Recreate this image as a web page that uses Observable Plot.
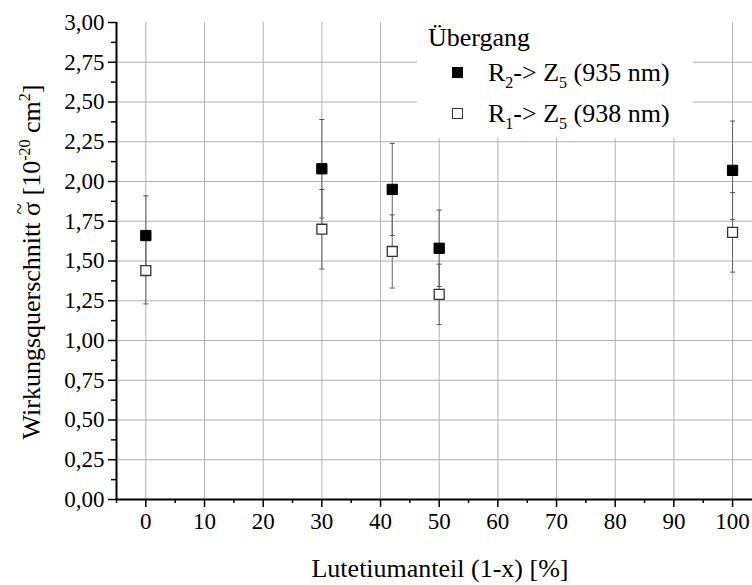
<!DOCTYPE html>
<html><head><meta charset="utf-8">
<script src="https://cdn.jsdelivr.net/npm/d3@7"></script>
<script src="https://cdn.jsdelivr.net/npm/@observablehq/plot@0.6"></script>
<style>
body{margin:0;background:#fff}
#wrap{position:relative;width:752px;height:585px;font-family:"Liberation Serif","Times New Roman",Tinos,Times,"DejaVu Serif",serif;color:#000}
#wrap svg{position:absolute;left:0;top:0}
.abs{position:absolute;white-space:nowrap;line-height:26px;font-size:26px}
.sub{font-size:16px;position:relative;top:7px}
.sup{font-size:16px;position:relative;top:-10px}
.mk{position:absolute;width:9px;height:9px;border:1.2px solid #000}
.tl{position:relative;display:inline-block}
.tl > span{position:absolute;left:0;right:0;top:-13px;text-align:center;font-size:20px}
</style></head><body><div id="wrap"></div>
<script>
// Data
const lutetium = [0, 30, 42, 50, 100];
const r2Values = [1.66, 2.08, 1.95, 1.58, 2.07];
const r2Errors = [0.25, 0.31, 0.29, 0.24, 0.31];
const r1Values = [1.44, 1.70, 1.56, 1.29, 1.68];
const r1Errors = [0.21, 0.25, 0.23, 0.19, 0.25];
const xTicks = [0, 10, 20, 30, 40, 50, 60, 70, 80, 90, 100];
const xMinorTicks = [-5, 5, 15, 25, 35, 45, 55, 65, 75, 85, 95];
const yTicks = [0, 0.25, 0.5, 0.75, 1, 1.25, 1.5, 1.75, 2, 2.25, 2.5, 2.75, 3];
const yMinorTicks = [0.125, 0.375, 0.625, 0.875, 1.125, 1.375, 1.625, 1.875, 2.125, 2.375, 2.625, 2.875];
const yGrid = [0.25, 0.5, 0.75, 1, 1.25, 1.5, 1.75, 2, 2.25, 2.5, 2.75];
const xDomain = [-5, 103.4];
const yDomain = [0, 3];

const rows = lutetium.map((x, i) => ({x, r2: r2Values[i], r2e: r2Errors[i], r1: r1Values[i], r1e: r1Errors[i]}));

const capSymbol = {draw(ctx, size) { const w = Math.sqrt(size) / 2; ctx.moveTo(-w, 0); ctx.lineTo(w, 0); }};
const capStyle = {symbol: capSymbol, r: 2.9, stroke: "#555", fill: "none", strokeWidth: 1};
const errStroke = "#666";
const serif = '"Liberation Serif","Times New Roman",Tinos,Times,"DejaVu Serif",serif';

const chart = Plot.plot({
  width: 752, height: 585,
  marginLeft: 116, marginRight: 0, marginTop: 22, marginBottom: 86,
  x: {domain: xDomain},
  y: {domain: yDomain},
  style: {fontFamily: serif, fontSize: "23px", background: "transparent", color: "#000"},
  marks: [
    Plot.gridX({ticks: xTicks, stroke: "#b0b0b0", strokeOpacity: 1, strokeWidth: 1}),
    Plot.gridY({ticks: yGrid, stroke: "#b0b0b0", strokeOpacity: 1, strokeWidth: 1}),
    Plot.ruleX(rows, {x: "x", y1: d => d.r2 - d.r2e, y2: d => d.r2 + d.r2e, stroke: errStroke, strokeWidth: 1}),
    Plot.ruleX(rows, {x: "x", y1: d => d.r1 - d.r1e, y2: d => d.r1 + d.r1e, stroke: errStroke, strokeWidth: 1}),
    Plot.dot(rows, {x: "x", y: d => d.r2 + d.r2e, ...capStyle}),
    Plot.dot(rows, {x: "x", y: d => d.r2 - d.r2e, ...capStyle}),
    Plot.dot(rows, {x: "x", y: d => d.r1 + d.r1e, ...capStyle}),
    Plot.dot(rows, {x: "x", y: d => d.r1 - d.r1e, ...capStyle}),
    Plot.dot(rows, {x: "x", y: "r2", symbol: "square", r: 5.8, fill: "#000", stroke: "#000", strokeWidth: 1}),
    Plot.dot(rows, {x: "x", y: "r1", symbol: "square", r: 5.6, fill: "#fff", stroke: "#333", strokeWidth: 1.3}),
    Plot.axisY({ticks: yTicks, tickFormat: d => d.toFixed(2).replace(".", ","), tickSize: 8, tickPadding: 4, strokeWidth: 1.5, fontSize: 23, fontFamily: serif, label: null}),
    Plot.axisY({ticks: yMinorTicks, tickSize: 5, strokeWidth: 1.5, fill: "none", label: null}),
    Plot.axisX({ticks: xTicks, tickSize: 8, tickPadding: 5, strokeWidth: 1.5, fontSize: 23, fontFamily: serif, label: null}),
    Plot.axisX({ticks: xMinorTicks, tickSize: 4, strokeWidth: 1.5, fill: "none", label: null}),
    Plot.ruleY([yDomain[0]], {stroke: "#000", strokeWidth: 2}),
    Plot.ruleX([xDomain[0]], {stroke: "#000", strokeWidth: 2})
  ]
});

const wrap = document.getElementById("wrap");
wrap.appendChild(chart);

// Legend
const legend = document.createElement("div");
legend.style.cssText = "position:absolute;left:417px;top:22px;width:276px;height:116px;background:#fff";
legend.innerHTML = `
  <div class="abs" style="left:11px;top:3px">Übergang</div>
  <div class="mk" style="left:35px;top:45px;background:#000"></div>
  <div class="abs" style="left:71px;top:38px">R<span class="sub">2</span>-&gt; Z<span class="sub">5</span> (935 nm)</div>
  <div class="mk" style="left:35px;top:86px;background:#fff;border-color:#333"></div>
  <div class="abs" style="left:71px;top:79px">R<span class="sub">1</span>-&gt; Z<span class="sub">5</span> (938 nm)</div>`;
wrap.appendChild(legend);

// Axis titles
const yTitle = document.createElement("div");
yTitle.className = "abs";
yTitle.style.cssText += ";left:33px;top:262px;transform:translate(-50%,-50%) rotate(-90deg)";
yTitle.innerHTML = `Wirkungsquerschnitt <span class="tl">σ<span>~</span></span> [10<span class="sup">-20</span> cm<span class="sup">2</span>]`;
wrap.appendChild(yTitle);

const xTitle = document.createElement("div");
xTitle.className = "abs";
xTitle.style.cssText += ";left:440px;top:556px;transform:translateX(-50%)";
xTitle.textContent = "Lutetiumanteil (1-x) [%]";
wrap.appendChild(xTitle);
</script></body></html>
